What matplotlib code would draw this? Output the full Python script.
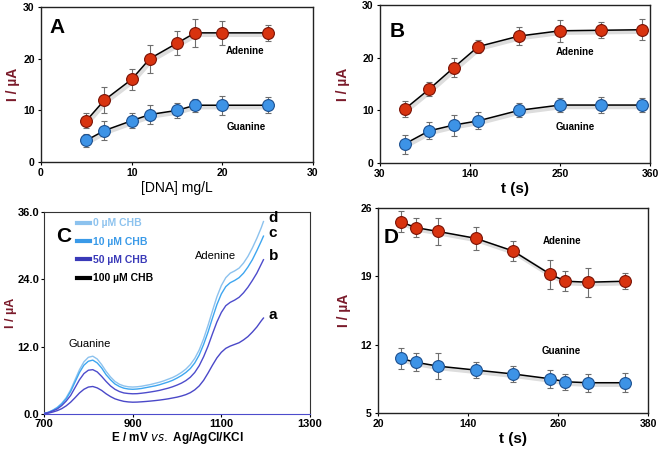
import matplotlib
matplotlib.use('Agg')
import matplotlib.pyplot as plt
import matplotlib.patheffects as pe

plt.rcParams['font.family'] = ['Liberation Sans', 'DejaVu Sans']

# panel A : signal vs DNA concentration
a_x = [5, 7, 10, 12, 15, 17, 20, 25]
a_ade = [8, 12, 16, 20, 23, 25, 25, 25]
a_ade_err = [1.5, 2.5, 2.0, 2.7, 2.3, 2.7, 2.3, 1.5]
a_gua = [4.2, 6.1, 8.0, 9.2, 10.0, 11.0, 11.0, 11.0]
a_gua_err = [1.3, 1.8, 1.5, 1.8, 1.5, 1.3, 1.8, 1.6]

# panel B : signal vs accumulation time
b_x = [60, 90, 120, 150, 200, 250, 300, 350]
b_ade = [10.2, 14.0, 18.1, 22.1, 24.1, 25.1, 25.2, 25.3]
b_ade_err = [1.5, 1.3, 1.8, 1.3, 1.7, 2.1, 1.5, 2.0]
b_gua = [3.6, 6.1, 7.2, 8.0, 10.0, 11.0, 11.0, 11.0]
b_gua_err = [1.8, 1.6, 2.0, 1.6, 1.3, 1.4, 1.6, 1.4]

# panel C : DPV curves (every 10 mV)
c_E = [700, 710, 720, 730, 740, 750, 760, 770, 780, 790, 800, 810, 820, 830, 840,
       850, 860, 870, 880, 890, 900, 910, 920, 930, 940, 950, 960, 970, 980, 990,
       1000, 1010, 1020, 1030, 1040, 1050, 1060, 1070, 1080, 1090, 1100, 1110,
       1120, 1130, 1140, 1150, 1160, 1170, 1180, 1190, 1195]
c_a = [0.05, 0.15, 0.35, 0.6, 0.95, 1.45, 2.1, 2.9, 3.75, 4.4, 4.8, 4.9, 4.65, 4.2, 3.6,
       3.1, 2.7, 2.45, 2.25, 2.15, 2.1, 2.12, 2.17, 2.23, 2.3, 2.38, 2.47, 2.58, 2.7, 2.85,
       3.0, 3.2, 3.45, 3.8, 4.3, 5.0, 6.0, 7.3, 8.7, 10.0, 11.0, 11.7,
       12.1, 12.4, 12.7, 13.2, 13.8, 14.6, 15.5, 16.6, 17.1]
c_b = [0.1, 0.25, 0.55, 0.9, 1.5, 2.3, 3.3, 4.7, 6.1, 7.2, 7.8, 7.9, 7.5, 6.7, 5.8,
       5.0, 4.4, 4.0, 3.75, 3.65, 3.6, 3.62, 3.7, 3.8, 3.92, 4.05, 4.2, 4.4, 4.6, 4.85,
       5.15, 5.5, 5.95, 6.55, 7.4, 8.6, 10.2, 12.1, 14.3, 16.4, 18.1, 19.3,
       19.9, 20.3, 20.8, 21.6, 22.6, 23.8, 25.1, 26.7, 27.5]
c_c = [0.1, 0.3, 0.65, 1.1, 1.8, 2.7, 4.0, 5.7, 7.4, 8.7, 9.4, 9.6, 9.1, 8.2, 7.0,
       6.1, 5.35, 4.9, 4.6, 4.45, 4.4, 4.45, 4.55, 4.7, 4.85, 5.0, 5.2, 5.45, 5.7, 6.0,
       6.4, 6.85, 7.4, 8.1, 9.1, 10.5, 12.4, 14.6, 17.1, 19.5, 21.4, 22.7,
       23.4, 23.8, 24.3, 25.1, 26.2, 27.5, 29.1, 30.8, 31.7]
c_d = [0.1, 0.3, 0.7, 1.2, 1.9, 2.9, 4.3, 6.1, 7.9, 9.3, 10.1, 10.3, 9.8, 8.8, 7.6,
       6.6, 5.8, 5.3, 5.0, 4.85, 4.8, 4.85, 4.95, 5.1, 5.25, 5.45, 5.65, 5.9, 6.2, 6.5,
       6.9, 7.4, 8.0, 8.8, 9.9, 11.4, 13.4, 15.8, 18.4, 20.9, 22.9, 24.3,
       25.1, 25.5, 26.0, 26.9, 28.1, 29.6, 31.3, 33.2, 34.3]
c_legend = ['0 µM CHB', '10 µM CHB', '50 µM CHB', '100 µM CHB']

# panel D : signal vs time
d_x = [50, 70, 100, 150, 200, 250, 270, 300, 350]
d_ade = [24.6, 24.0, 23.6, 22.9, 21.6, 19.2, 18.5, 18.4, 18.5]
d_ade_err = [1.1, 1.0, 1.4, 1.2, 1.0, 1.5, 1.0, 1.5, 0.8]
d_gua = [10.6, 10.2, 9.8, 9.4, 9.0, 8.5, 8.2, 8.1, 8.1]
d_gua_err = [1.1, 0.9, 1.3, 0.8, 0.8, 0.9, 0.8, 0.9, 1.0]

RED = '#d8330f'
RED_EDGE = '#7a1205'
BLUE = '#3d93e6'
BLUE_EDGE = '#1b4f8f'
MAROON = '#7a1a2a'

fig = plt.figure(figsize=(6.61, 4.49), dpi=100)

axA = fig.add_axes([0.062, 0.639, 0.4115, 0.3454])
axB = fig.add_axes([0.5749, 0.637, 0.4085, 0.3519])
axC = fig.add_axes([0.0666, 0.078, 0.4024, 0.4498])
axD = fig.add_axes([0.5719, 0.0802, 0.4084, 0.4565])

shadow = [pe.SimpleLineShadow(offset=(1.2, -1.5), shadow_color='#aaaaaa', alpha=0.4, linewidth=3.0), pe.Normal()]


def scatter_panel(ax, x, ade, ade_err, gua, gua_err):
    for y, e, c, ec in [(ade, ade_err, RED, RED_EDGE), (gua, gua_err, BLUE, BLUE_EDGE)]:
        ax.plot(x, y, color='black', lw=1.1, zorder=2, path_effects=shadow)
        ax.errorbar(x, y, yerr=e, fmt='none', ecolor='#6e6e6e', elinewidth=0.8,
                    capsize=2, capthick=0.8, zorder=3)
        ax.plot(x, y, 'o', ms=8.5, mfc=c, mec=ec, mew=0.8, zorder=4)
    for s in ax.spines.values():
        s.set_color('#222222')
        s.set_linewidth(1.0)
    ax.tick_params(direction='out', length=2.5, width=0.8, labelsize=7.5, pad=2)
    ax.set_ylabel('I / µA', color=MAROON, fontsize=10, fontweight='bold')


# A
scatter_panel(axA, a_x, a_ade, a_ade_err, a_gua, a_gua_err)
axA.set_xlim(0, 30)
axA.set_ylim(0, 30)
axA.set_xticks([0, 10, 20, 30])
axA.set_yticks([0, 10, 20, 30])
axA.set_xticklabels(['0', '10', '20', '30'], fontweight='bold')
axA.set_yticklabels(['0', '10', '20', '30'], fontweight='bold')
axA.set_xlabel('[DNA] mg/L', fontsize=10, labelpad=2)
axA.yaxis.set_label_coords(-0.077, 0.5)
axA.text(0.9, 26, 'A', fontsize=15, fontweight='bold', va='center')
axA.text(22.5, 21.5, 'Adenine', fontsize=7, fontweight='bold', ha='center', va='center')
axA.text(22.6, 6.8, 'Guanine', fontsize=7, fontweight='bold', ha='center', va='center')

# B
scatter_panel(axB, b_x, b_ade, b_ade_err, b_gua, b_gua_err)
axB.set_xlim(30, 360)
axB.set_ylim(0, 30)
axB.set_xticks([30, 140, 250, 360])
axB.set_yticks([0, 10, 20, 30])
axB.set_xticklabels(['30', '140', '250', '360'], fontweight='bold')
axB.set_yticklabels(['0', '10', '20', '30'], fontweight='bold')
axB.set_xlabel('t (s)', fontsize=11, fontweight='bold', labelpad=2)
axB.yaxis.set_label_coords(-0.11, 0.5)
axB.text(42, 25, 'B', fontsize=15, fontweight='bold', va='center')
axB.text(268, 21.0, 'Adenine', fontsize=7, fontweight='bold', ha='center', va='center')
axB.text(269, 6.9, 'Guanine', fontsize=7, fontweight='bold', ha='center', va='center')

# C
c_colors = ['#8cc2ee', '#3ea6f0', '#4d4ccc', '#4a48c8']
for y, col in zip([c_d, c_c, c_b, c_a], c_colors):
    axC.plot(c_E, y, color=col, lw=1.0, zorder=3)
for y, lab in zip([c_d, c_c, c_b, c_a], ['d', 'c', 'b', 'a']):
    axC.text(c_E[-1] + 12, y[-1] + 0.6, lab, fontsize=11, fontweight='bold', ha='left', va='center')
leg_cols = ['#8cc2ee', '#3a9ae8', '#3a3ab8', '#000000']
handles = [plt.Line2D([], [], color=c, lw=3) for c in leg_cols]
axC.legend(handles, c_legend, loc='upper left', bbox_to_anchor=(0.105, 0.995), frameon=False,
           borderpad=0, handlelength=1.2, handletextpad=0.3, labelspacing=0.8, labelcolor=leg_cols,
           prop={'weight': 'bold', 'size': 7.5})
axC.set_xlim(700, 1300)
axC.set_ylim(0, 36)
axC.set_xticks([700, 900, 1100, 1300])
axC.set_yticks([0, 12, 24, 36])
axC.set_xticklabels(['700', '900', '1100', '1300'], fontweight='bold')
axC.set_yticklabels(['0.0', '12.0', '24.0', '36.0'], fontweight='bold')
axC.tick_params(direction='out', length=2.5, width=0.8, labelsize=8, pad=1)
for s in axC.spines.values():
    s.set_color('#333333')
axC.spines['bottom'].set_color('#4d4ccc')
axC.set_xlabel(r'E / mV $\bf{\it{vs.}}$ Ag/AgCl/KCl', fontsize=8.5, fontweight='bold', labelpad=1)
axC.set_ylabel('I / µA', color=MAROON, fontsize=9, fontweight='bold')
axC.yaxis.set_label_coords(-0.10, 0.5)
axC.text(728, 31.6, 'C', fontsize=15, fontweight='bold', va='center')
axC.text(1086, 28.2, 'Adenine', fontsize=8, ha='center', va='center')
axC.text(804, 12.4, 'Guanine', fontsize=8, ha='center', va='center')

# D
scatter_panel(axD, d_x, d_ade, d_ade_err, d_gua, d_gua_err)
axD.set_xlim(20, 380)
axD.set_ylim(5, 26)
axD.set_xticks([20, 140, 260, 380])
axD.set_yticks([5, 12, 19, 26])
axD.set_xticklabels(['20', '140', '260', '380'], fontweight='bold')
axD.set_yticklabels(['5', '12', '19', '26'], fontweight='bold')
axD.set_xlabel('t (s)', fontsize=11, fontweight='bold', labelpad=2)
axD.yaxis.set_label_coords(-0.10, 0.5)
axD.text(28, 23.0, 'D', fontsize=15, fontweight='bold', va='center')
axD.text(265, 22.6, 'Adenine', fontsize=7, fontweight='bold', ha='center', va='center')
axD.text(264, 11.4, 'Guanine', fontsize=7, fontweight='bold', ha='center', va='center')

fig.savefig('out.png', dpi=100)
